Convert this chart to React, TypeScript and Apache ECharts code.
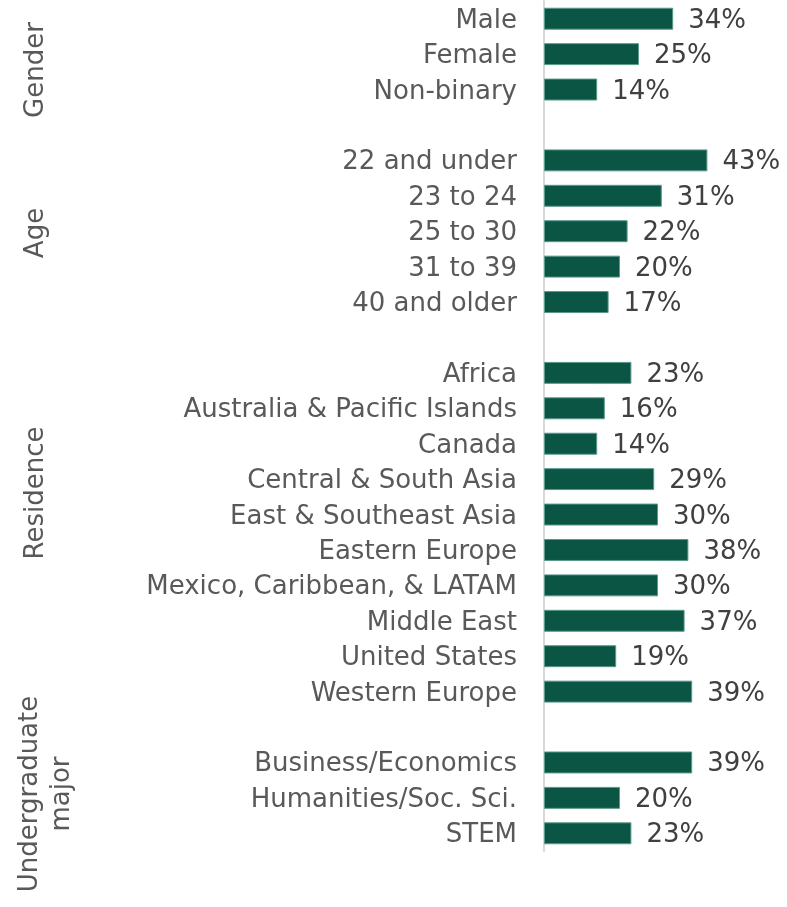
import React, { useEffect, useRef } from "react";
import * as echarts from "echarts";

const categories = [
  "Male", "Female", "Non-binary", "",
  "22 and under", "23 to 24", "25 to 30", "31 to 39", "40 and older", " ",
  "Africa", "Australia & Pacific Islands", "Canada", "Central & South Asia", "East & Southeast Asia",
  "Eastern Europe", "Mexico, Caribbean, & LATAM", "Middle East", "United States", "Western Europe", "  ",
  "Business/Economics", "Humanities/Soc. Sci.", "STEM",
];
const values: (number | null)[] = [
  34, 25, 14, null,
  43, 31, 22, 20, 17, null,
  23, 16, 14, 29, 30, 38, 30, 37, 19, 39, null,
  39, 20, 23,
];
const groupLabels = ["Gender", "Age", "Residence", "Undergraduate\nmajor"];

const FONT = "'DejaVu Sans'";
const FS = 26;

export default function App() {
  const ref = useRef<HTMLDivElement>(null);
  useEffect(() => {
    const chart = echarts.init(ref.current!, null, { renderer: "svg" });
    const g = (text: string, x: number, y: number) => ({
      type: "text", x, y, rotation: Math.PI / 2,
      style: { text, fill: "#595959", font: `${FS}px ${FONT}`, align: "center", verticalAlign: "middle", lineHeight: 32 },
    });
    chart.setOption({
      animation: false,
      grid: { left: 544, right: 53, top: 1, bottom: 56, containLabel: false },
      xAxis: { type: "value", min: 0, max: 50, show: false },
      yAxis: {
        type: "category",
        inverse: true,
        data: categories,
        axisLine: { show: true, lineStyle: { color: "#d9d9d9", width: 2 } },
        axisTick: { show: false },
        axisLabel: { color: "#595959", fontSize: FS, fontFamily: FONT, margin: 27 },
      },
      series: [
        {
          type: "bar",
          data: values,
          barCategoryGap: "38%",
          itemStyle: { color: "#0b5545", borderColor: "#5a9a8a", borderWidth: 1 },
          label: {
            show: true,
            position: "right",
            distance: 15,
            color: "#404040",
            fontSize: FS,
            fontFamily: FONT,
            formatter: (p: any) => (p.value == null ? "" : p.value + "%"),
          },
        },
      ],
      graphic: [
        g(groupLabels[0], 34, 70),
        g(groupLabels[1], 34, 233),
        g(groupLabels[2], 34, 493),
        g(groupLabels[3], 44, 794),
      ],
    });
    return () => chart.dispose();
  }, []);
  return <div ref={ref} style={{ position: "fixed", left: 0, top: 0, width: 787, height: 907 }} />;
}
